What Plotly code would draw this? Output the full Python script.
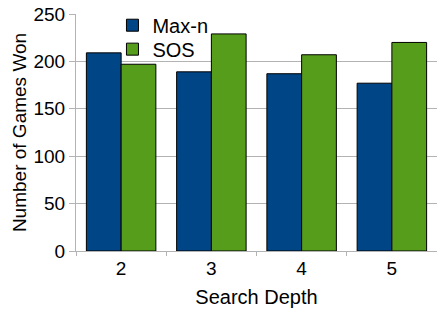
import plotly.graph_objects as go

depths = ["2", "3", "4", "5"]
maxn_wins = [209, 189, 187, 177]
sos_wins = [197, 229, 207, 220]
y_ticks = [0, 50, 100, 150, 200, 250]

FONT = "Liberation Sans, Arial, sans-serif"

fig = go.Figure()
fig.add_trace(go.Bar(x=depths, y=maxn_wins, name="Max-n", legend="legend",
                     marker=dict(color="#004586", line=dict(color="#000000", width=1))))
fig.add_trace(go.Bar(x=depths, y=sos_wins, name="SOS", legend="legend2",
                     marker=dict(color="#579d1c", line=dict(color="#000000", width=1))))

leg_common = dict(xanchor="left", yanchor="top", bgcolor="rgba(0,0,0,0)",
                  font=dict(size=20, family=FONT), borderwidth=0)

fig.update_layout(
    width=437, height=309,
    margin=dict(l=76, r=0, t=14, b=58, autoexpand=False),
    paper_bgcolor="white", plot_bgcolor="white",
    barmode="group", bargap=0.23, bargroupgap=0,
    font=dict(family=FONT, size=19, color="#000000"),
    showlegend=True,
    legend=dict(x=0.101, y=1.035, **leg_common),
    legend2=dict(x=0.101, y=0.934, **leg_common),
    xaxis=dict(
        type="category", automargin=False,
        title=dict(text="Search Depth", font=dict(size=20), standoff=12),
        showline=True, linecolor="#b3b3b3", linewidth=1,
        ticks="outside", tickson="boundaries", ticklen=4, tickcolor="#b3b3b3",
        showgrid=False, range=[-0.5, 3.5],
    ),
    yaxis=dict(
        automargin=False, ticklabeloverflow="allow",
        title=dict(text="Number of Games Won", font=dict(size=19), standoff=1),
        range=[0, 250], tickvals=y_ticks,
        showline=True, linecolor="#b3b3b3", linewidth=1,
        ticks="outside", ticklen=6, tickcolor="#b3b3b3",
        showgrid=True, gridcolor="#b3b3b3", gridwidth=1,
        zeroline=False,
    ),
)

fig.write_html("out.html", config={"displayModeBar": False},
               post_script="document.body.style.margin='0';")
